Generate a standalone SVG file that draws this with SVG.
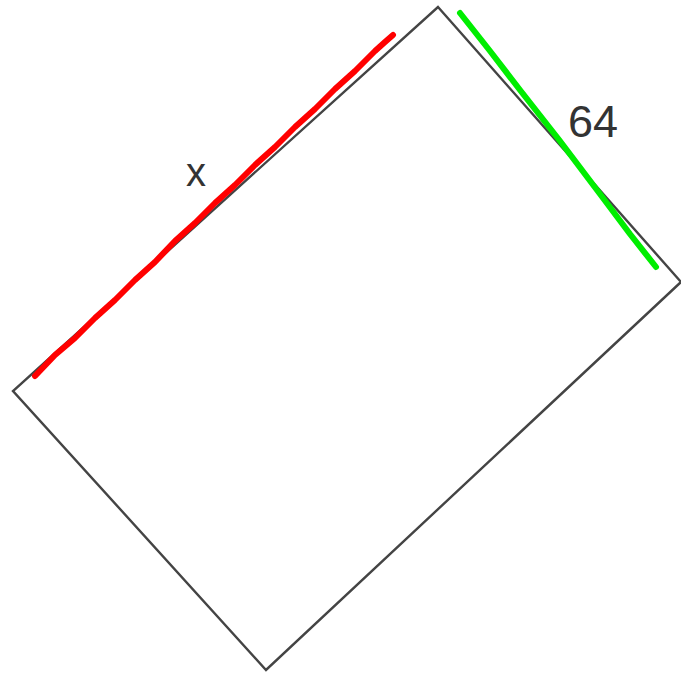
<svg xmlns="http://www.w3.org/2000/svg" width="681" height="675" viewBox="0 0 681 675">
<style>
.edge{fill:none;stroke:#444;stroke-width:2.4;stroke-linejoin:miter}
.lbl{font-family:"Liberation Sans",Arial,sans-serif;fill:#333}
</style>
<rect width="681" height="675" fill="#fff"/>
<g id="rectangle">
<polygon class="edge" points="438,7 681,282 266,670 13,391"/>
</g>
<g id="connectors">
<polyline fill="none" stroke="#ff0000" stroke-width="6" stroke-linecap="round" stroke-linejoin="round" points="35,376 55,355 75,338 95,318 115,300 135,280 155,262 175,241 195,223 215,203 235,185 255,165 275,147 295,127 315,109 335,89 355,71 375,51 385,42 393,35"/>
<polyline fill="none" stroke="#00ee00" stroke-width="6" stroke-linecap="round" stroke-linejoin="round" points="460,13 490,51 520,90 560,141 600,194 630,234 656,267"/>
</g>
<g id="labels">
<text class="lbl" x="196" y="186" font-size="40" text-anchor="middle">x</text>
<text class="lbl" x="593" y="137" font-size="45" text-anchor="middle">64</text>
</g>
</svg>
